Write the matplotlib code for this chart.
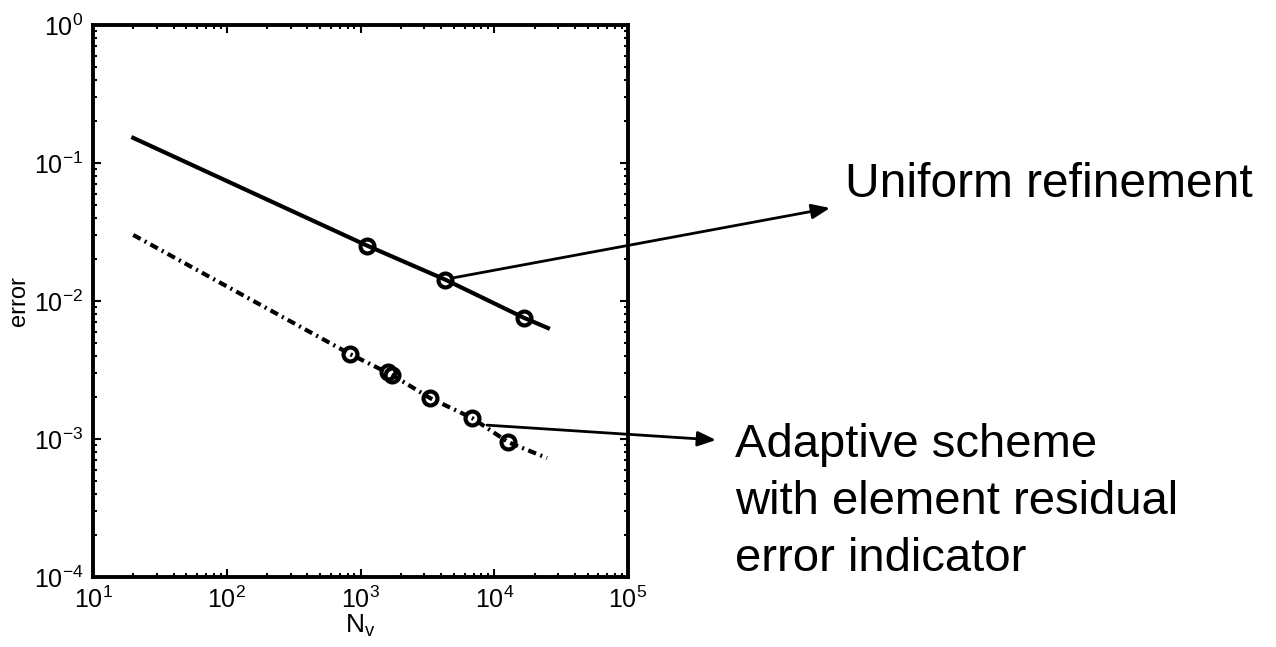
import matplotlib
matplotlib.use("Agg")
import matplotlib.pyplot as plt
from matplotlib.ticker import LogLocator, NullFormatter, FuncFormatter
import numpy as np

plt.rcParams['font.family'] = ['Liberation Sans', 'DejaVu Sans']
plt.rcParams['mathtext.fontset'] = 'custom'
plt.rcParams['mathtext.rm'] = 'Liberation Sans'
plt.rcParams['mathtext.it'] = 'Liberation Sans'

# uniform refinement (line vertices) and its markers
uniform_N = [20, 1120, 4290, 16700, 25200]
uniform_err = [0.152, 0.0252, 0.0143, 0.00755, 0.00637]
uniform_mark_N = [1120, 4290, 16700]
uniform_mark_err = [0.0252, 0.0143, 0.00755]

# adaptive scheme with element residual indicator
adapt_N = [20, 834, 1722, 3311, 6823, 12680, 24800]
adapt_err = [0.0301, 0.00413, 0.00291, 0.00198, 0.00142, 0.00095, 0.000728]
adapt_mark_N = [834, 1600, 1722, 3311, 6823, 12680]
adapt_mark_err = [0.00413, 0.00305, 0.00291, 0.00198, 0.00142, 0.00095]

W, H = 1276, 647
fig = plt.figure(figsize=(W/100, H/100), dpi=100)
ax = fig.add_axes([93/W, 1-577/H, (628-93)/W, (577-25)/H])

ax.loglog(uniform_N, uniform_err, '-', color='black', lw=3)
ax.loglog(uniform_mark_N, uniform_mark_err, 'o', mfc='none', mec='black', mew=3, ms=10)
ax.loglog(adapt_N, adapt_err, '-.', color='black', lw=3, dashes=(2, 1.1, 0.5, 1.1))
ax.loglog(adapt_mark_N, adapt_mark_err, 'o', mfc='none', mec='black', mew=3, ms=10)

ax.set_xlim(1e1, 1e5)
ax.set_ylim(1e-4, 1e0)
ax.xaxis.set_major_locator(LogLocator(base=10, numticks=10))
ax.yaxis.set_major_locator(LogLocator(base=10, numticks=10))
ax.xaxis.set_minor_locator(LogLocator(base=10, subs=range(2, 10), numticks=20))
ax.yaxis.set_minor_locator(LogLocator(base=10, subs=range(2, 10), numticks=20))
ax.xaxis.set_minor_formatter(NullFormatter())
ax.yaxis.set_minor_formatter(NullFormatter())
fmt = FuncFormatter(lambda v, p: "10$^{%d}$" % int(round(np.log10(v))))
ax.xaxis.set_major_formatter(fmt)
ax.yaxis.set_major_formatter(fmt)
ax.tick_params(which='both', direction='in', top=True, right=True, width=1.5)
ax.tick_params(which='major', length=6, labelsize=18, pad=7)
ax.tick_params(which='minor', length=3)
for s in ax.spines.values():
    s.set_linewidth(2.8)

ax.set_xlabel("N$_{v}$", fontsize=19, labelpad=0)
ax.set_ylabel("error", fontsize=17, labelpad=3)

# arrows from the curves to the labels on the right
ax.annotate('', xy=(830, H-208), xycoords='figure pixels',
            xytext=(4900, 0.0147), textcoords='data', annotation_clip=False,
            arrowprops=dict(arrowstyle='-|>,head_length=1.1,head_width=0.45',
                            color='black', lw=2, shrinkA=0, shrinkB=0))
ax.annotate('', xy=(716, H-440), xycoords='figure pixels',
            xytext=(8830, 0.00126), textcoords='data', annotation_clip=False,
            arrowprops=dict(arrowstyle='-|>,head_length=1.1,head_width=0.45',
                            color='black', lw=2, shrinkA=0, shrinkB=0))

fig.text(845/W, 1-197/H, "Uniform refinement", fontsize=34.5, ha='left', va='baseline')
for i, line in enumerate(["Adaptive scheme", "with element residual", "error indicator"]):
    fig.text(735/W, 1-(457+57*i)/H, line, fontsize=34, ha='left', va='baseline')

fig.savefig("out.png", dpi=100)
